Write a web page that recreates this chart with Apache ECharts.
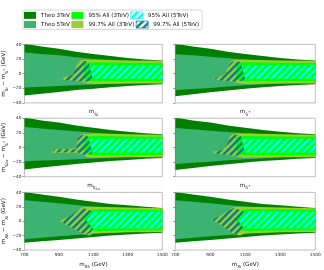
<!DOCTYPE html>
<html><head><meta charset="utf-8">
<script src="https://cdn.jsdelivr.net/npm/echarts@6/dist/echarts.min.js"></script>
<style>html,body{margin:0;padding:0;background:#fff}#c{width:324px;height:270px}</style>
</head><body><div id="c"></div>
<script>
// ---- data (axis units: x in GeV, y in GeV) ----
const X_RANGE = [700, 1500];
const Y_RANGE = [-40, 40];
const X_TICK_LABELS = ['700', '900', '1100', '1300', '1500'];
const Y_TICK_LABELS = ['\u221240', '\u221220', '0', '20', '40'];
const SERIES_NAMES = ['Theo 3TeV', '95% All (3TeV)', '95% All (5TeV)', 'Theo 5TeV', '99.7% All (3TeV)', '99.7% All (5TeV)'];

// top-left
const TL_theo3 = [[700,41],[800,37],[900,34],[1000,30],[1100,27],[1200,24],[1300,21.5],[1400,19.5],[1500,18],[1500,-14.5],[1400,-15.5],[1300,-17],[1200,-18.5],[1100,-20.5],[1000,-22.5],[900,-25],[800,-27.5],[700,-30]];
const TL_theo5 = [[700,29],[800,27],[900,25],[1000,22.5],[1100,20],[1300,17.5],[1500,15.5],[1500,-11.5],[1300,-13],[1100,-15],[1000,-16],[900,-17],[800,-18],[700,-19]];
const TL_yg99 = [[905,-6],[950,-4],[985,0],[998,8],[1008,14],[1020,17.5],[1045,19],[1100,19],[1300,18],[1500,17.5],[1500,-13.5],[1300,-13.5],[1100,-14],[1065,-13.5],[1045,-12],[1000,-10],[950,-9],[915,-8]];
const TL_lime95 = [[1045,13],[1060,15],[1100,15.5],[1300,15],[1500,14.5],[1500,-10.5],[1300,-10.5],[1100,-10.5],[1075,-10],[1055,-8],[1045,-3]];
const TL_teal99 = [[908,-7],[950,-4],[982,-1],[995,6],[1005,12],[1020,16],[1045,17.5],[1070,16],[1080,12],[1098,-7],[1080,-9.5],[1050,-11.5],[1000,-10],[950,-9.5]];
const TL_cyan95 = [[1075,12],[1300,12],[1500,12],[1500,-7],[1300,-7],[1098,-7]];
// top-right
const TR_theo3 = [[700,41],[800,37],[900,34],[1000,30],[1100,27],[1200,24],[1300,21.5],[1400,19.5],[1500,18],[1500,-14.5],[1400,-15.5],[1300,-17],[1200,-18.5],[1100,-20.5],[1000,-23],[900,-25.5],[800,-28],[700,-31]];
const TR_theo5 = [[700,26.5],[800,25],[900,23],[1000,21],[1100,19.5],[1300,17],[1500,15],[1500,-11.5],[1300,-13.5],[1100,-16],[1000,-17.5],[900,-19.5],[800,-21],[700,-22.5]];
const TR_yg99 = [[912,-6],[955,-4],[988,0],[1000,8],[1010,14],[1022,17.5],[1047,19],[1100,19],[1300,18],[1500,17.5],[1500,-13.5],[1300,-13.5],[1100,-14],[1067,-13.5],[1047,-12],[1000,-10],[955,-9],[920,-8]];
const TR_lime95 = [[1047,13],[1062,15],[1100,15.5],[1300,15],[1500,14.5],[1500,-10.5],[1300,-10.5],[1100,-10.5],[1077,-10],[1057,-8],[1047,-3]];
const TR_teal99 = [[915,-7],[955,-4],[985,-1],[998,6],[1007,12],[1022,16],[1047,17.5],[1072,16],[1082,12],[1100,-7],[1082,-9.5],[1052,-11.5],[1002,-10],[955,-9.5]];
const TR_cyan95 = [[1078,12],[1300,12],[1500,12],[1500,-7],[1300,-7],[1100,-7]];
// middle-left
const ML_theo3 = [[700,41],[800,37],[900,34],[1000,30],[1100,27],[1200,24],[1300,21.5],[1400,19.5],[1500,18],[1500,-14.5],[1400,-15.5],[1300,-17],[1200,-18.5],[1100,-20.5],[1000,-22.5],[900,-25],[800,-27.5],[700,-30]];
const ML_theo5 = [[700,28],[800,26],[900,24],[1000,22],[1100,20],[1300,17.5],[1500,15.5],[1500,-11.5],[1300,-13],[1100,-15],[1000,-16],[900,-17],[800,-18],[700,-19]];
const ML_yg99 = [[862,-2],[950,-2],[1000,-1],[1005,8],[1015,15],[1035,18.5],[1100,19],[1300,18],[1500,17.5],[1500,-13.5],[1300,-13.5],[1100,-14],[1060,-13],[1040,-10],[1010,-7.5],[940,-7.5],[862,-7.5]];
const ML_lime95 = [[1045,13],[1060,15],[1100,15.5],[1300,15],[1500,14.5],[1500,-10.5],[1300,-10.5],[1100,-10.5],[1075,-10],[1055,-8],[1045,-3]];
const ML_teal99 = [[865,-2.5],[1000,-2.5],[1003,6],[1010,13],[1030,17],[1060,17],[1075,12],[1095,-7],[1080,-9.5],[1050,-11],[1010,-7],[865,-7]];
const ML_cyan95 = [[1075,12],[1300,12],[1500,12],[1500,-7],[1300,-7],[1095,-7]];
// middle-right
const MR_theo3 = [[700,41],[800,37],[900,34],[1000,30],[1100,27],[1200,24],[1300,21.5],[1400,19.5],[1500,18],[1500,-14.5],[1400,-15.5],[1300,-17],[1200,-18.5],[1100,-20.5],[1000,-23],[900,-25.5],[800,-28],[700,-31]];
const MR_theo5 = [[700,26.5],[800,25],[900,23],[1000,21],[1100,19.5],[1300,17],[1500,15],[1500,-11.5],[1300,-13.5],[1100,-16],[1000,-17.5],[900,-19.5],[800,-21],[700,-22.5]];
const MR_yg99 = [[912,-6],[955,-4],[988,0],[1000,8],[1010,14],[1022,17.5],[1047,19],[1100,19],[1300,18],[1500,17.5],[1500,-13.5],[1300,-13.5],[1100,-14],[1067,-13.5],[1047,-12],[1000,-10],[955,-9],[920,-8]];
const MR_lime95 = [[1047,13],[1062,15],[1100,15.5],[1300,15],[1500,14.5],[1500,-10.5],[1300,-10.5],[1100,-10.5],[1077,-10],[1057,-8],[1047,-3]];
const MR_teal99 = [[915,-7],[955,-4],[985,-1],[998,6],[1007,12],[1022,16],[1047,17.5],[1072,16],[1082,12],[1100,-7],[1082,-9.5],[1052,-11.5],[1002,-10],[955,-9.5]];
const MR_cyan95 = [[1078,12],[1300,12],[1500,12],[1500,-7],[1300,-7],[1100,-7]];
// bottom-left
const BL_theo3 = [[700,40.5],[800,37],[900,34],[1000,30],[1100,27],[1200,24],[1300,22],[1400,20],[1500,18.5],[1500,-16],[1400,-17],[1300,-18.5],[1200,-20],[1100,-22],[1000,-24],[900,-26],[800,-28],[700,-30]];
const BL_theo5 = [[700,29],[800,27],[900,25],[1000,22.5],[1100,20],[1300,17.5],[1500,15.5],[1500,-13],[1300,-14.5],[1100,-17],[1000,-19],[900,-21],[800,-23],[700,-25]];
const BL_yg99 = [[903,0],[950,6],[1000,13],[1030,19],[1060,20],[1100,20],[1300,19],[1500,18],[1500,-15],[1300,-15.5],[1100,-17],[1075,-20],[1040,-18],[1000,-12],[950,-6]];
const BL_lime95 = [[1045,2],[1070,10],[1090,16],[1120,17],[1300,16.5],[1500,16],[1500,-12.5],[1300,-13],[1120,-13.5],[1090,-13],[1065,-7]];
const BL_teal99 = [[905,0],[960,7],[1005,14],[1035,18],[1060,17],[1100,13],[1060,1],[1100,-10],[1085,-15],[1060,-19],[1030,-16],[960,-7]];
const BL_cyan95 = [[1100,13],[1300,13],[1500,13],[1500,-10],[1300,-10],[1100,-10],[1060,1]];
// bottom-right
const BR_theo3 = [[700,40.5],[800,37],[900,34],[1000,30],[1100,27],[1200,24],[1300,22],[1400,20],[1500,18.5],[1500,-16],[1400,-17],[1300,-18.5],[1200,-20],[1100,-22],[1000,-24],[900,-26],[800,-28],[700,-30]];
const BR_theo5 = [[700,29],[800,27],[900,25],[1000,22.5],[1100,20],[1300,17.5],[1500,15.5],[1500,-13],[1300,-14.5],[1100,-17],[1000,-19],[900,-21],[800,-23],[700,-25]];
const BR_yg99 = [[905,2],[950,7],[995,13],[1025,19],[1060,20],[1100,20],[1300,19],[1500,18],[1500,-15],[1300,-15.5],[1100,-17],[1070,-20],[1035,-18],[995,-11],[950,-4]];
const BR_lime95 = [[1040,3],[1065,10],[1085,16],[1115,17],[1300,16.5],[1500,16],[1500,-12.5],[1300,-13],[1115,-13.5],[1085,-13],[1060,-6]];
const BR_teal99 = [[908,2],[960,8],[1000,14],[1030,18],[1055,17],[1095,13],[1055,2],[1095,-10],[1080,-15],[1055,-19],[1025,-16],[960,-5]];
const BR_cyan95 = [[1095,13],[1300,13],[1500,13],[1500,-10],[1300,-10],[1095,-10],[1055,2]];

// ---- styling ----
const FONT = 'DejaVu Sans';
const COLORS = {
  'Theo 3TeV': '#008000',
  'Theo 5TeV': '#3cb371',
  '99.7% All (3TeV)': '#9acd32',
  '95% All (3TeV)': '#00ff00',
  '99.7% All (5TeV)': '#0a7f8c',
  '95% All (5TeV)': '#00ffff'
};
function hatch(color) {
  const P = 7;
  const cv = document.createElement('canvas');
  cv.width = P; cv.height = P;
  const g = cv.getContext('2d');
  g.strokeStyle = color; g.lineWidth = 2.5; g.lineCap = 'square';
  for (const k of [-P, 0, P]) {
    g.beginPath(); g.moveTo(k, P); g.lineTo(k + P, 0); g.stroke();
  }
  return { image: cv, repeat: 'repeat' };
}
const FILLS = {
  'Theo 3TeV': COLORS['Theo 3TeV'],
  'Theo 5TeV': COLORS['Theo 5TeV'],
  '99.7% All (3TeV)': COLORS['99.7% All (3TeV)'],
  '95% All (3TeV)': COLORS['95% All (3TeV)'],
  '99.7% All (5TeV)': hatch(COLORS['99.7% All (5TeV)']),
  '95% All (5TeV)': hatch(COLORS['95% All (5TeV)'])
};

const panels = [
  { left: 23.3, top: 44.4, polys: [TL_theo3, TL_theo5, TL_yg99, TL_lime95, TL_teal99, TL_cyan95],
    yName: '{m|m}{s|S}{ss|I}{m| \u2212 m}{s|S}{sp|+}{m| (GeV)}', xName: '{m|m}{s|S}{ss|I}', yLabels: true, xLabels: false },
  { left: 175.3, top: 44.4, polys: [TR_theo3, TR_theo5, TR_yg99, TR_lime95, TR_teal99, TR_cyan95],
    yName: '', xName: '{m|m}{s|S}{sp|+}', yLabels: false, xLabels: false },
  { left: 23.3, top: 118.2, polys: [ML_theo3, ML_theo5, ML_yg99, ML_lime95, ML_teal99, ML_cyan95],
    yName: '{m|m}{s|S}{ss|2e}{m| \u2212 m}{s|S}{sp|+}{m| (GeV)}', xName: '{m|m}{s|S}{ss|2e}', yLabels: true, xLabels: false },
  { left: 175.3, top: 118.2, polys: [MR_theo3, MR_theo5, MR_yg99, MR_lime95, MR_teal99, MR_cyan95],
    yName: '', xName: '{m|m}{s|S}{sp|+}', yLabels: false, xLabels: false },
  { left: 23.3, top: 192.4, polys: [BL_theo3, BL_theo5, BL_yg99, BL_lime95, BL_teal99, BL_cyan95],
    yName: '{m|m}{s|X}{ss|R}{m| \u2212 m}{s|X}{ss|I}{m| (GeV)}', xName: '{m|m}{s|X}{ss|R}{m| (GeV)}', yLabels: true, xLabels: true },
  { left: 175.3, top: 192.4, polys: [BR_theo3, BR_theo5, BR_yg99, BR_lime95, BR_teal99, BR_cyan95],
    yName: '', xName: '{m|m}{s|X}{ss|I}{m| (GeV)}', yLabels: false, xLabels: true }
];
const REGION_ORDER = ['Theo 3TeV', 'Theo 5TeV', '99.7% All (3TeV)', '95% All (3TeV)', '99.7% All (5TeV)', '95% All (5TeV)'];

const nameRich = {
  m: { fontSize: 5.6, fontFamily: FONT, color: '#111', lineHeight: 9, verticalAlign: 'middle' },
  s: { fontSize: 4.3, fontFamily: FONT, color: '#111', lineHeight: 9, verticalAlign: 'bottom' },
  ss: { fontSize: 3.4, fontFamily: FONT, color: '#111', lineHeight: 8, verticalAlign: 'bottom' },
  sp: { fontSize: 3.4, fontFamily: FONT, color: '#111', lineHeight: 9, verticalAlign: 'middle' }
};

const grids = [], xAxes = [], yAxes = [], series = [];
panels.forEach((p, i) => {
  grids.push({ left: p.left, top: p.top, width: p.left > 100 ? 140 : 139, height: 58.5,
    show: true, borderColor: '#b0b0b0', borderWidth: 0.8, backgroundColor: '#fff' });
  xAxes.push({ gridIndex: i, type: 'value', min: X_RANGE[0], max: X_RANGE[1], interval: 100,
    axisLine: { show: false }, splitLine: { show: false },
    axisTick: { show: true, length: 2, lineStyle: { color: '#555', width: 0.6 } },
    axisLabel: { show: p.xLabels, interval: 0, fontSize: 4.3, fontFamily: FONT, color: '#222', margin: 3,
      formatter: v => { const idx = X_TICK_LABELS.indexOf(String(v)); return idx >= 0 ? X_TICK_LABELS[idx] : ''; } },
    name: p.xName, nameLocation: 'middle', nameGap: p.xLabels ? 10 : 4.5,
    nameTextStyle: { rich: nameRich } });
  yAxes.push({ gridIndex: i, type: 'value', min: Y_RANGE[0], max: Y_RANGE[1], interval: 20,
    axisLine: { show: false }, splitLine: { show: false },
    axisTick: { show: true, length: 2, lineStyle: { color: '#555', width: 0.6 } },
    axisLabel: { show: p.yLabels, fontSize: 4.3, fontFamily: FONT, color: '#222', margin: 3,
      formatter: v => Y_TICK_LABELS[(v - Y_RANGE[0]) / 20] },
    name: p.yName, nameLocation: 'middle', nameRotate: 90, nameGap: 12.5,
    nameTextStyle: { rich: nameRich } });
  REGION_ORDER.forEach((rName, r) => {
    const poly = p.polys[r];
    const fill = FILLS[rName];
    series.push({
      type: 'custom', name: rName, xAxisIndex: i, yAxisIndex: i, clip: true, silent: true,
      coordinateSystem: 'cartesian2d',
      itemStyle: { color: fill },
      data: poly,
      encode: { x: 0, y: 1 },
      renderItem: (params, api) => {
        if (params.dataIndex !== 0) return null;
        const pts = poly.map(pt => api.coord(pt));
        return { type: 'polygon', shape: { points: pts }, style: { fill: fill, stroke: null } };
      },
      z: 2 + r
    });
  });
});

const colOf = { 'Theo 3TeV': 1, 'Theo 5TeV': 1, '95% All (3TeV)': 2, '99.7% All (3TeV)': 2, '95% All (5TeV)': 3, '99.7% All (5TeV)': 3 };
const legendRich = {
  c1: { width: 32.5, fontSize: 5.6, fontFamily: FONT, color: '#111' },
  c2: { width: 49.8, fontSize: 5.6, fontFamily: FONT, color: '#111' },
  c3: { width: 47, fontSize: 5.6, fontFamily: FONT, color: '#111' }
};
const chart = echarts.init(document.getElementById('c'), null, { renderer: 'canvas' });
chart.setOption({
  animation: false,
  backgroundColor: '#fff',
  legend: {
    left: 23, top: 10, width: 185, orient: 'horizontal',
    padding: [1.5, 3, 1, 1], itemGap: 1.5, itemWidth: 12, itemHeight: 7,
    backgroundColor: '#fff', borderColor: '#cccccc', borderWidth: 0.8, borderRadius: 1.5,
    selectedMode: false,
    data: SERIES_NAMES.map(n => ({ name: n, icon: 'rect',
      itemStyle: n.indexOf('5TeV)') >= 0 ? { color: FILLS[n], borderColor: COLORS[n], borderWidth: 0.7 } : { color: COLORS[n] } })),
    formatter: n => '{c' + colOf[n] + '|' + n + '}',
    textStyle: { rich: legendRich, fontSize: 5.6, fontFamily: FONT }
  },
  grid: grids, xAxis: xAxes, yAxis: yAxes, series: series
});
</script></body></html>
